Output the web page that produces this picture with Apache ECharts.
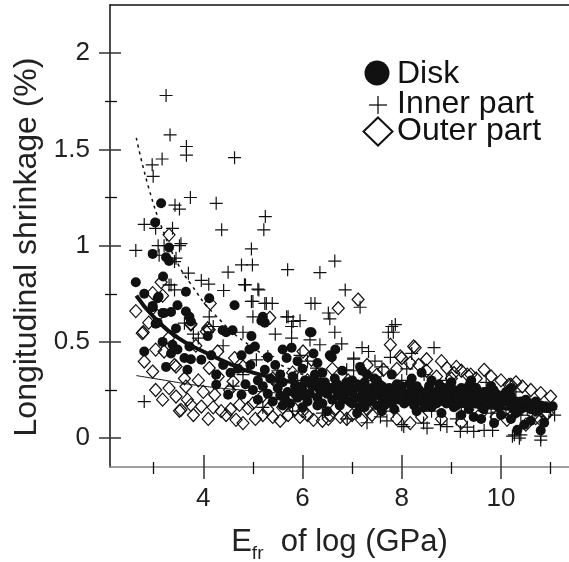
<!DOCTYPE html>
<html>
<head>
<meta charset="utf-8">
<script src="https://cdn.jsdelivr.net/npm/echarts@6/dist/echarts.min.js"></script>
<style>
  html, body { margin: 0; padding: 0; background: #fff; }
  #chart { width: 569px; height: 562px; }
</style>
</head>
<body>
<div id="chart"></div>
<script>
// tick positions
const xMajor = [4, 6, 8, 10];
const xMinor = [3, 5, 7, 9, 11];
const yMajor = [0, 0.5, 1, 1.5, 2];
const yMinor = [0.25, 0.75, 1.25, 1.75];

// Disk (filled circles)
const disk = [
  [3.15,1.22],[3.03,1.12],[3.31,0.99],[2.98,0.957],[3.25,0.94],[3.31,0.92],[2.64,0.81],[3.19,0.84],
  [3.65,0.76],[2.81,0.75],[3.1,0.735],[3.48,0.69],[4.63,0.69],[4.12,0.727],[3.21,0.65],[3.35,0.655],
  [3.65,0.658],[3.72,0.63],[3.75,0.606],[2.98,0.68],[3.08,0.727],[5.2,0.63],[5.24,0.6],[3.04,0.594],
  [3.45,0.57],[2.98,0.687],[3.18,0.65],[3.08,0.6],[4.39,0.56],[4.46,0.55],[4.09,0.53],[3.18,0.5],
  [2.81,0.45],[3.38,0.485],[3.48,0.46],[3.35,0.44],[3.72,0.476],[3.62,0.416],[3.75,0.41],[3.96,0.407],
  [4.16,0.43],[3.25,0.37],[3.68,0.355],[4.26,0.33],[4.26,0.277],[4.5,0.225],[6.15,0.55],[4.97,0.53],
  [5.04,0.476],[4.93,0.46],[4.77,0.43],[5.78,0.47],[5.68,0.416],[5.24,0.355],[5.1,0.3],[4.77,0.225],
  [6.55,0.43],[6.18,0.55],[6.59,0.42],[6.66,0.46],[7.16,0.37],[6.22,0.44],[4.59,0.56],[5.17,0.61],
  [4.4,0.38],[4.55,0.34],[4.7,0.36],[4.85,0.28],[4.95,0.38],[5.3,0.42],[5.45,0.38],[5.55,0.33],
  [5.6,0.46],[5.9,0.4],[6.0,0.36],[6.3,0.39],[6.4,0.34],[6.8,0.35],[7.0,0.3],[7.3,0.33],[7.5,0.3],
  [5.0,0.25],[5.1,0.2],[5.2,0.27],[5.3,0.23],[5.35,0.31],[5.4,0.19],[5.5,0.26],[5.55,0.22],
  [5.6,0.29],[5.7,0.24],[5.75,0.18],[5.8,0.32],[5.85,0.27],[5.9,0.21],[6.0,0.25],[6.05,0.3],
  [6.1,0.19],[6.15,0.23],[6.2,0.27],[6.25,0.33],[6.3,0.21],[6.35,0.25],[6.4,0.18],[6.45,0.29],
  [6.5,0.23],[6.55,0.26],[6.6,0.2],[6.65,0.31],[6.7,0.24],[6.75,0.17],[6.8,0.27],[6.85,0.22],
  [6.9,0.29],[6.95,0.19],[7.0,0.24],[7.05,0.27],[7.1,0.21],[7.15,0.16],[7.2,0.25],[7.25,0.29],
  [7.3,0.22],[7.35,0.19],[7.4,0.26],[7.45,0.23],[7.5,0.17],[7.55,0.28],[7.6,0.21],[7.65,0.24],
  [7.7,0.19],[7.75,0.26],[7.8,0.22],[7.85,0.15],[7.9,0.24],[7.95,0.2],[8.0,0.27],[8.05,0.18],
  [8.1,0.23],[8.15,0.21],[8.2,0.26],[8.25,0.17],[8.3,0.22],[8.35,0.25],[8.4,0.19],[8.45,0.23],
  [8.5,0.2],[8.55,0.27],[8.6,0.16],[8.65,0.22],[8.7,0.24],[8.75,0.19],[8.8,0.21],[8.85,0.26],
  [8.9,0.18],[8.95,0.23],[9.0,0.2],[9.05,0.25],[9.1,0.17],[9.15,0.22],[9.2,0.19],[9.25,0.24],
  [9.3,0.21],[9.35,0.15],[9.4,0.23],[9.45,0.19],[9.5,0.26],[9.55,0.21],[9.6,0.17],[9.65,0.24],
  [9.7,0.2],[9.75,0.22],[9.8,0.18],[9.85,0.25],[9.9,0.2],[9.95,0.16],[10.0,0.22],[10.05,0.19],
  [10.1,0.24],[10.15,0.2],[10.2,0.17],[10.3,0.13],[10.4,0.19],[10.5,0.16],[10.6,0.18],[10.7,0.14],
  [10.8,0.17],[10.9,0.165],[11.04,0.165],[9.45,0.11],[9.86,0.078],[10.33,0.043],[10.47,0.07],
  [10.8,0.04],[10.87,0.08],[9.2,0.12],[9.6,0.1],[10.0,0.12],[10.2,0.1],[10.6,0.09],[8.8,0.13],
  [8.3,0.14],[7.6,0.14],[7.1,0.13],[6.5,0.14],[6.0,0.16],[5.6,0.17],[7.8,0.33],[8.2,0.31],
  [8.6,0.3],[9.0,0.29],[9.4,0.3],[9.8,0.27],[10.2,0.26],[7.2,0.35],[8.4,0.34],
  [5.55,0.3],[5.65,0.2],[5.95,0.26],[6.05,0.22],[6.2,0.3],[6.3,0.17],[6.45,0.24],[6.6,0.26],
  [6.7,0.28],[6.8,0.2],[6.9,0.25],[7.0,0.18],[7.1,0.28],[7.2,0.2],[7.3,0.26],[7.4,0.2],
  [7.5,0.24],[7.6,0.27],[7.7,0.22],[7.8,0.18],[7.9,0.28],[8.0,0.22],[8.1,0.19],[8.2,0.23],
  [8.3,0.27],[8.4,0.22],[8.5,0.24],[8.6,0.2],[8.7,0.18],[8.8,0.24],[8.9,0.21],[9.0,0.25],
  [9.1,0.22],[9.2,0.26],[9.3,0.18],[9.4,0.2],[9.5,0.22],[9.6,0.19],[9.7,0.24],[9.8,0.21],
  [9.9,0.23],[10.0,0.18],[10.1,0.2],[10.2,0.22],[10.3,0.19],[10.4,0.15],[10.5,0.2],[10.6,0.15],
  [10.7,0.19],[7.45,0.31],[8.15,0.28],[8.75,0.28],[9.35,0.27],[6.35,0.29],[5.85,0.23],[6.75,0.22],
  [7.25,0.16],[7.65,0.17],[8.45,0.16],[9.05,0.16],[9.65,0.15],[10.25,0.15]
];

// Inner part (plus signs)
const inner = [
  [3.25,1.78],[3.33,1.575],[3.66,1.515],[3.66,1.47],[3.17,1.45],[2.97,1.42],[2.99,1.36],[3.74,1.25],
  [3.43,1.21],[3.52,1.19],[2.81,1.11],[3.04,1.09],[3.38,1.09],[2.64,0.975],[3.09,1.0],[3.55,1.01],
  [3.45,0.935],[3.7,0.857],[4.63,1.457],[4.26,1.22],[5.25,1.151],[5.22,1.082],[4.37,1.082],[4.97,0.983],
  [4.77,0.9],[4.99,0.9],[4.5,0.862],[3.96,0.819],[4.11,0.8],[4.85,0.796],[5.1,0.774],[4.41,0.767],
  [3.31,0.796],[4.97,0.71],[5.24,0.7],[5.0,0.63],[5.68,0.63],[5.81,0.606],[3.52,1.0],[3.21,1.0],
  [3.11,0.95],[3.42,0.917],[3.35,0.796],[3.62,0.597],[4.12,0.63],[5.7,0.875],[6.35,0.86],[6.65,0.92],
  [6.86,0.77],[7.16,0.68],[6.17,0.7],[7.87,0.59],[7.83,0.55],[4.83,0.797],[5.12,0.77],[5.0,0.71],
  [5.27,0.7],[5.39,0.7],[6.25,0.7],[5.71,0.63],[5.95,0.61],[5.78,0.58],[6.52,0.65],[6.55,0.62],
  [6.65,0.55],[4.8,0.55],[5.78,0.52],[6.35,0.485],[6.79,0.49],[7.03,0.416],[5.3,0.424],[5.07,0.407],
  [6.28,0.364],[4.8,0.33],[6.15,0.51],[6.89,0.355],[7.8,0.58],[7.73,0.55],[8.65,0.47],[8.2,0.44],
  [7.33,0.45],[7.03,0.41],[7.46,0.4],[7.77,0.42],[7.03,0.35],[8.0,0.07],[8.44,0.078],[8.78,0.07],
  [9.18,0.035],[8.91,0.06],[7.57,0.11],[7.83,0.14],[8.6,0.14],[9.1,0.1],[10.23,0.01],[10.37,0.0],
  [10.8,0.01],[10.8,-0.01],[9.45,0.035],[9.83,0.04],[9.32,0.057],[11.08,0.12],[10.53,0.155],[9.66,0.04],
  [10.27,0.017],[10.4,0.017],[8.04,0.06],[8.51,0.052],[2.81,0.19],[3.42,0.77],[3.8,0.54],
  [5.5,0.35],[5.9,0.3],[6.2,0.25],[6.6,0.28],[7.0,0.2],[7.4,0.3],[7.7,0.25],[8.0,0.3],
  [8.3,0.2],[8.6,0.26],[8.9,0.3],[9.2,0.16],[9.5,0.2],[9.8,0.13],[10.1,0.15],[10.4,0.12],
  [10.7,0.18],[11.0,0.15],[6.4,0.13],[6.9,0.1],[7.3,0.08],[7.7,0.09],[5.2,0.16],[5.8,0.14],
  [4.6,0.27],[4.4,0.48],[4.2,0.58],[3.9,0.52],[5.45,0.54],[5.95,0.43],[6.1,0.4],[7.2,0.47],
  [7.6,0.37],[8.1,0.36],[8.45,0.33],[9.3,0.27],[9.7,0.29],[10.3,0.24]
];

// Outer part (open diamonds)
const outer = [
  [2.64,0.66],[2.98,0.753],[3.18,0.74],[3.08,0.635],[3.75,0.59],[2.77,0.545],[3.04,0.46],[3.21,0.45],
  [2.98,0.346],[3.45,0.372],[4.06,0.554],[4.12,0.364],[3.62,0.31],[3.65,0.268],[3.04,0.25],[3.18,0.2],
  [3.31,0.26],[3.45,0.216],[3.55,0.147],[3.68,0.2],[3.75,0.173],[3.96,0.164],[4.23,0.225],[4.36,0.14],
  [4.46,0.12],[4.66,0.095],[4.6,0.294],[4.63,0.416],[4.53,0.25],[4.12,0.563],[4.29,0.45],[3.42,0.38],
  [2.79,0.55],[2.81,0.398],[3.52,0.142],[3.31,1.056],[3.15,0.81],[4.14,0.7],[3.75,0.594],[4.09,0.571],
  [7.12,0.72],[5.34,0.625],[4.8,0.372],[4.73,0.173],[4.9,0.156],[4.8,0.078],[5.2,0.12],[5.4,0.11],
  [5.4,0.31],[5.71,0.12],[5.95,0.11],[6.22,0.095],[6.55,0.12],[6.76,0.11],[6.01,0.45],[6.18,0.407],
  [6.72,0.675],[7.06,0.225],[6.92,0.3],[7.77,0.485],[8.27,0.47],[7.97,0.424],[8.17,0.39],[8.91,0.364],
  [9.66,0.355],[9.39,0.33],[10.16,0.277],[10.43,0.268],[10.8,0.234],[11.0,0.216],[6.52,0.1],[6.89,0.1],
  [7.19,0.095],[8.17,0.078],[10.12,0.095],[10.8,0.095],[10.94,0.13],[8.24,0.476],[8.0,0.416],[8.34,0.38],
  [7.63,0.355],[9.05,0.338],[9.32,0.33],[10.2,0.277],[10.9,0.12],[10.7,0.104],[10.2,0.11],
  [6.3,0.33],[6.6,0.36],[7.3,0.38],[7.5,0.33],[7.9,0.36],[8.5,0.35],[8.7,0.32],[9.0,0.31],
  [9.2,0.35],[9.5,0.31],[9.8,0.32],[10.0,0.3],[10.3,0.29],[10.6,0.25],[8.5,0.41],[8.8,0.4],
  [9.1,0.37],[7.4,0.12],[7.9,0.1],[8.4,0.11],[8.8,0.1],[9.2,0.08],[9.6,0.13],[9.9,0.11],
  [10.5,0.07],[6.0,0.14],[5.6,0.16],[5.0,0.18],[5.2,0.22],[5.5,0.28],[5.8,0.34],[6.1,0.3],
  [4.3,0.32],[3.9,0.3],[3.85,0.48],[4.0,0.24],[3.3,0.52],[2.9,0.6],
  [3.8,0.12],[4.1,0.1],[4.2,0.16],[4.55,0.15],[5.05,0.1],[5.3,0.15],[5.55,0.09],[5.85,0.15],
  [6.1,0.12],[6.4,0.09],[6.65,0.15],[7.0,0.12],[7.3,0.15]
];

// fitted curves
const diskFit = [[2.65,0.74],[3,0.63],[3.5,0.52],[4,0.45],[4.5,0.39],[5,0.34],[6,0.28],[7,0.23],[8,0.2],[9,0.175],[10,0.155],[11,0.14]];
const innerFit = [[2.65,1.56],[2.9,1.3],[3.2,1.07],[3.5,0.9],[3.75,0.8],[4.2,0.65],[5,0.47],[6,0.33],[7,0.25],[8,0.2],[9,0.16],[10,0.13],[11,0.11]];
const outerFit = [[2.65,0.325],[3,0.31],[4,0.27],[5,0.245],[6,0.225],[7,0.21],[8,0.195],[9,0.18],[10,0.17],[11,0.16]];

const FONT = 'Liberation Sans';
const chart = echarts.init(document.getElementById('chart'));

function xAx(extra) {
  return Object.assign({
    type: 'value', min: 2.12, max: 11.37, position: 'bottom',
    axisLine: { show: false, onZero: false },
    axisTick: { show: false },
    axisLabel: { show: false },
    splitLine: { show: false }
  }, extra);
}
function yAx(extra) {
  return Object.assign({
    type: 'value', min: -0.15, max: 2.25, position: 'left',
    axisLine: { show: false, onZero: false },
    axisTick: { show: false },
    axisLabel: { show: false },
    splitLine: { show: false }
  }, extra);
}

const option = {
  animation: false,
  grid: { left: 110, top: 5, right: 0, bottom: 95, containLabel: false, outerBoundsMode: 'none' },
  xAxis: [
    xAx({
      axisLine: { show: true, onZero: false, lineStyle: { color: '#808080', width: 1.5 } },
      axisTick: { show: true, inside: false, length: 12, customValues: xMajor, lineStyle: { color: '#333', width: 1.5 } },
      axisLabel: { show: true, customValues: xMajor, margin: 19, fontSize: 26, fontFamily: FONT, color: '#222' },
      name: '{a|E}{b|fr}{a|  of log (GPa)}',
      nameLocation: 'middle',
      nameGap: 54,
      nameTextStyle: {
        rich: {
          a: { fontSize: 31, fontFamily: FONT, color: '#222' },
          b: { fontSize: 19, fontFamily: FONT, color: '#222', padding: [23, 0, 0, 0] }
        }
      }
    }),
    xAx({ axisTick: { show: true, inside: true, length: 12, customValues: xMajor, lineStyle: { color: '#333', width: 1.5 } } }),
    xAx({ axisTick: { show: true, inside: false, length: 7, customValues: xMinor, lineStyle: { color: '#111', width: 1.3 } } }),
    xAx({ axisTick: { show: true, inside: true, length: 5, customValues: xMinor, lineStyle: { color: '#111', width: 1.3 } } }),
    xAx({ position: 'top', axisLine: { show: true, onZero: false, lineStyle: { color: '#111', width: 1.5 } } })
  ],
  yAxis: [
    yAx({
      axisLine: { show: true, onZero: false, lineStyle: { color: '#111', width: 1.5 } },
      axisTick: { show: true, inside: false, length: 11, customValues: yMajor, lineStyle: { color: '#333', width: 1.5 } },
      axisLabel: { show: true, customValues: yMajor, margin: 20, fontSize: 26, fontFamily: FONT, color: '#222' },
      name: 'Longitudinal shrinkage (%)',
      nameLocation: 'middle',
      nameGap: 66,
      nameTextStyle: { fontSize: 32, fontFamily: FONT, color: '#222', padding: [0, 22, 0, 0] }
    }),
    yAx({ axisTick: { show: true, inside: true, length: 11, customValues: yMajor, lineStyle: { color: '#333', width: 1.5 } } }),
    yAx({ axisTick: { show: true, inside: false, length: 5, customValues: yMinor, lineStyle: { color: '#111', width: 1.3 } } }),
    yAx({ axisTick: { show: true, inside: true, length: 7, customValues: yMinor, lineStyle: { color: '#111', width: 1.3 } } })
  ],
  series: [
    {
      name: 'Outer part', type: 'scatter', data: outer,
      symbol: 'diamond', symbolSize: [12, 13],
      itemStyle: { color: 'rgba(255,255,255,0)', borderColor: '#111', borderWidth: 1.2, opacity: 1 }
    },
    {
      name: 'Disk', type: 'scatter', data: disk,
      symbol: 'circle', symbolSize: 10,
      itemStyle: { color: '#111', opacity: 1 }
    },
    {
      name: 'Inner part', type: 'scatter', data: inner,
      symbol: 'path://M0,5L10,5M5,0L5,10', symbolSize: 13,
      itemStyle: { color: 'rgba(0,0,0,0)', borderColor: '#111', borderWidth: 1.2, opacity: 1 }
    },
    {
      type: 'line', data: outerFit, symbol: 'none', smooth: true,
      lineStyle: { color: '#111', width: 1 }
    },
    {
      type: 'line', data: innerFit, symbol: 'none', smooth: true,
      lineStyle: { color: '#111', width: 1.5, type: [3, 4] }
    },
    {
      type: 'line', data: diskFit, symbol: 'none', smooth: true,
      lineStyle: { color: '#111', width: 4 }
    }
  ],
  graphic: [
    { type: 'circle', shape: { cx: 377, cy: 73, r: 12.5 }, style: { fill: '#111' } },
    { type: 'polyline', shape: { points: [[369, 105], [387, 105]] }, style: { stroke: '#111', lineWidth: 1.3, fill: null } },
    { type: 'polyline', shape: { points: [[378, 96], [378, 114]] }, style: { stroke: '#111', lineWidth: 1.3, fill: null } },
    { type: 'polygon', shape: { points: [[378, 117.5], [392.5, 131.5], [378, 145.5], [363.5, 131.5]] }, style: { stroke: '#111', lineWidth: 2, fill: '#fff' } },
    { type: 'text', style: { text: 'Disk', x: 397, y: 74, font: '32px "Liberation Sans"', fill: '#111', verticalAlign: 'middle' } },
    { type: 'text', style: { text: 'Inner part', x: 397, y: 104, font: '32px "Liberation Sans"', fill: '#111', verticalAlign: 'middle' } },
    { type: 'text', style: { text: 'Outer part', x: 397, y: 131, font: '32px "Liberation Sans"', fill: '#111', verticalAlign: 'middle' } }
  ]
};
chart.setOption(option);
</script>
</body>
</html>
